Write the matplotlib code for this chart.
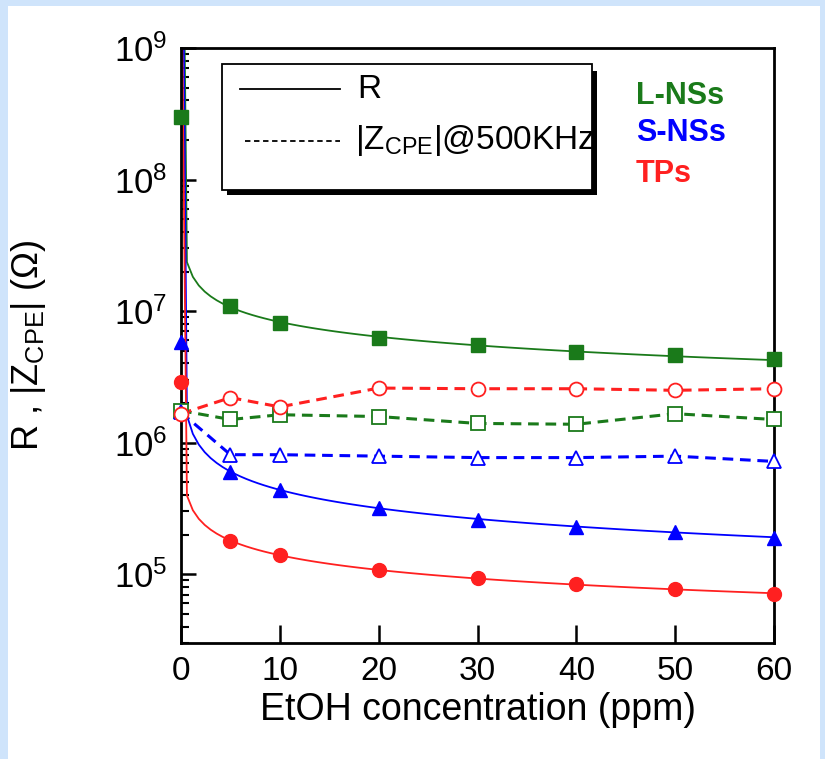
import numpy as np
import matplotlib
matplotlib.use('Agg')
import matplotlib.pyplot as plt
from matplotlib.patches import Rectangle
from matplotlib.ticker import LogLocator, NullFormatter, FixedLocator

plt.rcParams['font.family'] = ['Liberation Sans', 'DejaVu Sans']
plt.rcParams['mathtext.fontset'] = 'custom'
plt.rcParams['mathtext.rm'] = 'Liberation Sans'
plt.rcParams['mathtext.it'] = 'Liberation Sans'

##########################
# data
conc = [0, 5, 10, 20, 30, 40, 50, 60]

R_L = [3.0e8, 1.1e7, 8.1e6, 6.2e6, 5.5e6, 4.9e6, 4.6e6, 4.3e6]
R_S = [5.8e6, 6.0e5, 4.4e5, 3.2e5, 2.6e5, 2.3e5, 2.1e5, 1.9e5]
R_T = [2.9e6, 1.8e5, 1.4e5, 1.07e5, 9.3e4, 8.4e4, 7.7e4, 7.1e4]

Z_L = [1.75e6, 1.5e6, 1.63e6, 1.58e6, 1.40e6, 1.38e6, 1.66e6, 1.5e6]
Z_S = [1.70e6, 8.1e5, 8.1e5, 7.9e5, 7.7e5, 7.7e5, 7.9e5, 7.2e5]
Z_T = [1.66e6, 2.2e6, 1.87e6, 2.6e6, 2.57e6, 2.57e6, 2.5e6, 2.57e6]

green = '#1a7a1a'
blue = '#0000ff'
red = '#ff2020'
##########################

fig = plt.figure(figsize=(8.25, 7.59), dpi=100, facecolor='#cfe4fb')
fig.patches.append(Rectangle((8 / 825, 0), 812 / 825, 753 / 759, transform=fig.transFigure,
                             facecolor='white', edgecolor='none', zorder=-10))

ax = fig.add_axes([181 / 825, 1 - 643 / 759, 593 / 825, 595 / 759])
ax.set_facecolor('none')
ax.set_yscale('log')


# power-law trend line fitted to points x>=5 (like the original fitted curve)
def trend(x, y):
    x = np.array(x[1:], float)
    y = np.array(y[1:], float)
    b, a = np.polyfit(np.log(x), np.log(y), 1)
    xs = np.linspace(0, 60, 101)
    xs[0] = 1e-12
    return xs, np.exp(a) * xs ** b


for R, Z, c, m in [(R_L, Z_L, green, 's'), (R_S, Z_S, blue, '^'), (R_T, Z_T, red, 'o')]:
    xs, ys = trend(conc, R)
    ax.plot(xs, ys, '-', color=c, lw=1.3, zorder=2)
    ax.plot(conc, R, m, color=c, ms=10, mec=c, clip_on=False, zorder=4)
    ax.plot(conc, Z, '--', color=c, lw=2.2, dashes=(3.5, 2.2), zorder=3)
    ax.plot(conc, Z, m, color=c, ms=10, mfc='white', mec=c, mew=1.3,
            clip_on=False, zorder=4)

ax.set_xlim(0, 60)
ax.set_ylim(3e4, 1e9)

ax.xaxis.set_major_locator(FixedLocator(conc[:1] + list(range(10, 61, 10))))
ax.tick_params(axis='x', direction='in', length=13, width=1.8, labelsize=24, pad=9,
               top=False)
ax.yaxis.set_major_locator(LogLocator(base=10, numticks=10))
ax.yaxis.set_minor_locator(LogLocator(base=10, subs=np.arange(2, 10), numticks=10))
ax.yaxis.set_minor_formatter(NullFormatter())
ax.tick_params(axis='y', which='major', direction='in', length=11, width=1.8,
               labelsize=25, pad=10, right=False)
ax.tick_params(axis='y', which='minor', direction='in', length=6, width=1.5, right=False)
for s in ax.spines.values():
    s.set_linewidth(2)

ax.set_xlabel('EtOH concentration (ppm)', fontsize=27, labelpad=4)
ax.set_ylabel(r'R , |Z$_{\rm CPE}$| ($\Omega$)', fontsize=26)
ax.yaxis.set_label_coords(-0.225, 0.5)

# legend box with shadow
tr = fig.transFigure
fig.patches.append(Rectangle((227 / 825, 1 - 195 / 759), 370 / 825, 124 / 759,
                             transform=tr, facecolor='black', edgecolor='none', zorder=5))
fig.patches.append(Rectangle((222 / 825, 1 - 190 / 759), 370 / 825, 126 / 759,
                             transform=tr, facecolor='white', edgecolor='black', lw=1.3,
                             zorder=6))
fig.lines.append(plt.Line2D([240 / 825, 340 / 825], [1 - 89 / 759] * 2, transform=tr,
                            color='black', lw=1.3, zorder=7))
fig.lines.append(plt.Line2D([245 / 825, 340 / 825], [1 - 141 / 759] * 2, transform=tr,
                            color='black', lw=1.3, ls='--', dashes=(3, 2), zorder=7))
fig.text(357 / 825, 1 - 89 / 759, 'R', fontsize=24, va='center', zorder=8)
fig.text(355 / 825, 1 - 141 / 759, r'|Z$_{\rm CPE}$|@500KHz', fontsize=24,
         va='center', zorder=8)

fig.text(636 / 825, 1 - 96 / 759, 'L-NSs', color=green, fontsize=22, fontweight='bold',
         va='center')
fig.text(636 / 825, 1 - 133 / 759, 'S-NSs', color=blue, fontsize=22, fontweight='bold',
         va='center')
fig.text(636 / 825, 1 - 174 / 759, 'TPs', color=red, fontsize=22, fontweight='bold',
         va='center')

fig.savefig('out.png', dpi=100, facecolor=fig.get_facecolor())
